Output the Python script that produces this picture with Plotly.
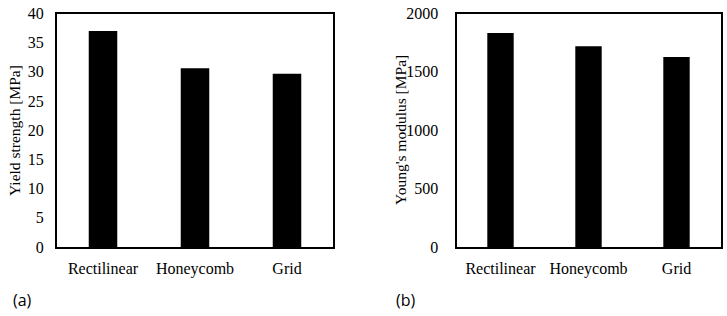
import plotly.graph_objects as go
from plotly.subplots import make_subplots

categories = ["Rectilinear", "Honeycomb", "Grid"]
yield_strength = [37.0, 30.6, 29.7]
youngs_modulus = [1834, 1719, 1628]
ys_ticks = [0, 5, 10, 15, 20, 25, 30, 35, 40]
ym_ticks = [0, 500, 1000, 1500, 2000]

W, H = 727, 316


def px_x(x):
    return x / W


def px_y(y):
    return 1 - y / H


fig = make_subplots(rows=1, cols=2)
fig.add_trace(go.Bar(x=categories, y=yield_strength, marker=dict(color="black", line=dict(width=0)),
                     width=0.31), row=1, col=1)
fig.add_trace(go.Bar(x=categories, y=youngs_modulus, marker=dict(color="black", line=dict(width=0)),
                     width=0.30), row=1, col=2)

serif = "Liberation Serif"
ydom = [px_y(247), px_y(13.5)]
common_x = dict(showline=True, mirror=True, linecolor="black", linewidth=2, ticks="",
                showgrid=False, tickfont=dict(family=serif, size=16, color="black"),
                automargin=False, fixedrange=True, ticklabelstandoff=6)
common_y = dict(showline=True, mirror=True, linecolor="black", linewidth=2, ticks="",
                showgrid=False, zeroline=False, tickfont=dict(family=serif, size=16, color="black"),
                automargin=False, ticklabeloverflow="allow")

fig.update_xaxes(domain=[px_x(57), px_x(333)], row=1, col=1, **common_x)
fig.update_xaxes(domain=[px_x(456.5), px_x(720.5)], row=1, col=2, **common_x)
fig.update_yaxes(domain=ydom, range=[0, 40], tickvals=ys_ticks, row=1, col=1, ticklabelstandoff=8,
                 **common_y)
fig.update_yaxes(domain=ydom, range=[0, 2000], tickvals=ym_ticks, row=1, col=2, ticklabelstandoff=13,
                 **common_y)

# axis titles
fig.add_annotation(text="Yield strength [MPa]", x=px_x(14), y=px_y(131), xref="paper", yref="paper",
                   xanchor="center", yanchor="middle", textangle=-90, showarrow=False,
                   font=dict(family=serif, size=15.5, color="black"))
fig.add_annotation(text="Young's modulus [MPa]", x=px_x(400), y=px_y(130), xref="paper", yref="paper",
                   xanchor="center", yanchor="middle", textangle=-90, showarrow=False,
                   font=dict(family=serif, size=15.5, color="black"))

fig.add_annotation(text="(a)", x=px_x(11), y=px_y(300), xref="paper", yref="paper",
                   xanchor="left", yanchor="middle", showarrow=False,
                   font=dict(family="Open Sans", size=16, color="black"))
fig.add_annotation(text="(b)", x=px_x(394), y=px_y(300), xref="paper", yref="paper",
                   xanchor="left", yanchor="middle", showarrow=False,
                   font=dict(family="Open Sans", size=16, color="black"))

fig.update_layout(width=W, height=H, margin=dict(l=0, r=0, t=0, b=0),
                  font=dict(family=serif, color="black"), hovermode=False,
                  paper_bgcolor="white", plot_bgcolor="white", showlegend=False)
fig.write_html("out.html", config={"displayModeBar": False},
               post_script="document.body.style.margin='0';document.body.style.overflow='hidden';")
